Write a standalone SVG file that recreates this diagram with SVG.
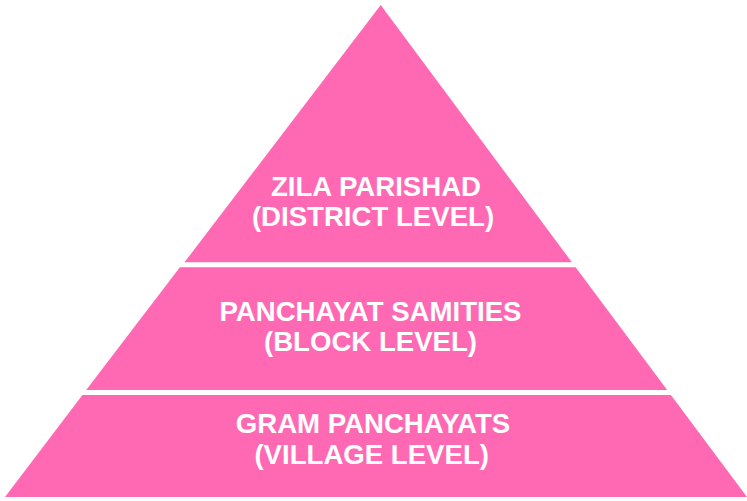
<svg xmlns="http://www.w3.org/2000/svg" width="747" height="501" viewBox="0 0 747 501">
<style>
.tier{fill:#FF69B4;}
.lbl{fill:#FFFFFF;font-family:"Liberation Sans",Arial,Helvetica,sans-serif;font-weight:bold;font-size:27.6px;text-anchor:middle;}
</style>
<rect x="0" y="0" width="747" height="501" fill="#FFFFFF"/>
<g id="zila-parishad">
<polygon class="tier" points="380.7,5 571.9,262.3 184.5,262.3"/>
<text class="lbl" x="376" y="196">ZILA PARISHAD</text>
<text class="lbl" x="373" y="226">(DISTRICT LEVEL)</text>
</g>
<g id="panchayat-samities">
<polygon class="tier" points="179.9,267.3 575.6,267.3 667.2,390 86.2,390"/>
<text class="lbl" x="370.5" y="321">PANCHAYAT SAMITIES</text>
<text class="lbl" x="370.5" y="351">(BLOCK LEVEL)</text>
</g>
<g id="gram-panchayats">
<polygon class="tier" points="82.4,395 670.9,395 747,497 5,497"/>
<text class="lbl" x="373" y="433">GRAM PANCHAYATS</text>
<text class="lbl" x="371.7" y="463.5">(VILLAGE LEVEL)</text>
</g>
<g id="connectors"></g>
</svg>
